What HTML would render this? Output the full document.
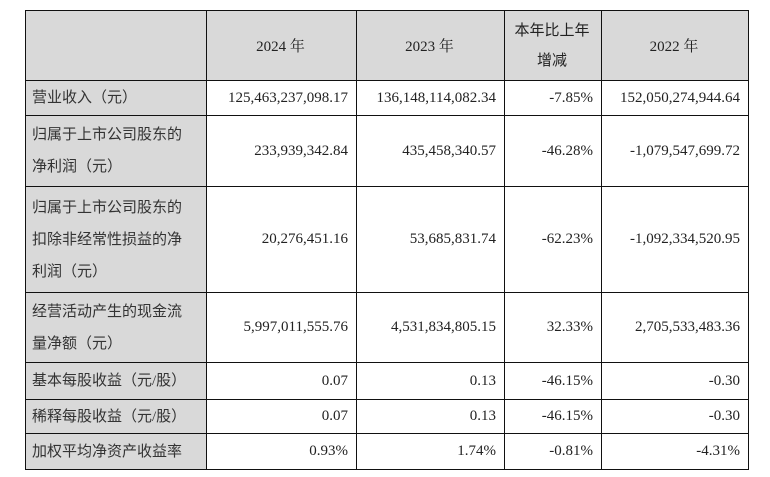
<!DOCTYPE html>
<html><head><meta charset="utf-8">
<style>
body{margin:0;background:#fff;width:770px;height:477px;overflow:hidden}
table{position:absolute;left:25px;top:10px;border-collapse:collapse;font-family:"Liberation Serif","Noto Serif CJK SC",serif;font-size:15px;color:#222}
td{border:1.3px solid #111;padding:0 8px 0 6px;text-align:right;white-space:nowrap}
td.h{background:#d9d9d9;text-align:center}
td.l{background:#d9d9d9;text-align:left;font-family:"Liberation Serif","Noto Sans CJK SC",sans-serif;color:#333;line-height:32px;padding-left:6px}
</style></head><body>
<table>
<colgroup><col style="width:181px"><col style="width:150px"><col style="width:148px"><col style="width:97px"><col style="width:147px"></colgroup>
<tr style="height:70px"><td class="h"></td><td class="h">2024 年</td><td class="h">2023 年</td><td class="h" style="line-height:30px;font-family:'Liberation Serif','Noto Sans CJK SC',sans-serif">本年比上年<br>增减</td><td class="h">2022 年</td></tr>
<tr style="height:35px"><td class="l">营业收入（元）</td><td>125,463,237,098.17</td><td>136,148,114,082.34</td><td>-7.85%</td><td>152,050,274,944.64</td></tr>
<tr style="height:71px"><td class="l">归属于上市公司股东的<br>净利润（元）</td><td>233,939,342.84</td><td>435,458,340.57</td><td>-46.28%</td><td>-1,079,547,699.72</td></tr>
<tr style="height:106px"><td class="l">归属于上市公司股东的<br>扣除非经常性损益的净<br>利润（元）</td><td>20,276,451.16</td><td>53,685,831.74</td><td>-62.23%</td><td>-1,092,334,520.95</td></tr>
<tr style="height:70px"><td class="l">经营活动产生的现金流<br>量净额（元）</td><td>5,997,011,555.76</td><td>4,531,834,805.15</td><td>32.33%</td><td>2,705,533,483.36</td></tr>
<tr style="height:37px"><td class="l">基本每股收益（元/股）</td><td>0.07</td><td>0.13</td><td>-46.15%</td><td>-0.30</td></tr>
<tr style="height:34px"><td class="l">稀释每股收益（元/股）</td><td>0.07</td><td>0.13</td><td>-46.15%</td><td>-0.30</td></tr>
<tr style="height:36px"><td class="l">加权平均净资产收益率</td><td>0.93%</td><td>1.74%</td><td>-0.81%</td><td>-4.31%</td></tr>
</table>
</body></html>
